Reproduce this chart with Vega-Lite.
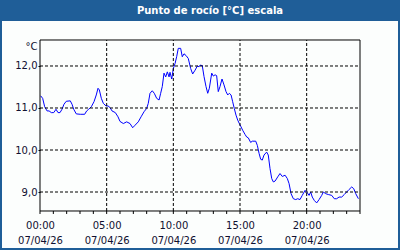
{
  "$schema": "https://vega.github.io/schema/vega-lite/v6.json",
  "width": 396,
  "height": 227,
  "autosize": {"type": "none"},
  "padding": {"left": 2, "top": 21, "right": 2, "bottom": 2},
  "background": "#1f5e98",
  "config": {
    "view": {"fill": "#fcfefd", "stroke": null},
    "font": "DejaVu Sans"
  },
  "title": {
    "text": "Punto de rocío [°C] escala",
    "color": "#ffffff",
    "fontSize": 10,
    "fontWeight": "bold",
    "font": "DejaVu Sans",
    "anchor": "middle",
    "dx": 10,
    "offset": 5
  },
  "datasets": {
    "dew": [
      {"h": 0.05, "t": 11.29}, {"h": 0.20, "t": 11.23}, {"h": 0.35, "t": 11.03}, {"h": 0.53, "t": 10.93},
      {"h": 0.68, "t": 10.93}, {"h": 0.85, "t": 10.89}, {"h": 1.03, "t": 10.89}, {"h": 1.20, "t": 10.97},
      {"h": 1.35, "t": 10.89}, {"h": 1.50, "t": 10.89}, {"h": 1.65, "t": 10.97}, {"h": 1.80, "t": 11.09},
      {"h": 1.97, "t": 11.16}, {"h": 2.27, "t": 11.17}, {"h": 2.40, "t": 11.09}, {"h": 2.53, "t": 10.97},
      {"h": 2.72, "t": 10.86}, {"h": 3.02, "t": 10.85}, {"h": 3.35, "t": 10.85}, {"h": 3.50, "t": 10.93},
      {"h": 3.65, "t": 10.97}, {"h": 3.85, "t": 11.03}, {"h": 4.05, "t": 11.15}, {"h": 4.22, "t": 11.31},
      {"h": 4.35, "t": 11.47}, {"h": 4.45, "t": 11.43}, {"h": 4.60, "t": 11.23}, {"h": 4.75, "t": 11.11},
      {"h": 4.95, "t": 11.05}, {"h": 5.10, "t": 11.05}, {"h": 5.25, "t": 11.01}, {"h": 5.40, "t": 10.93},
      {"h": 5.65, "t": 10.89}, {"h": 5.85, "t": 10.79}, {"h": 6.00, "t": 10.68}, {"h": 6.25, "t": 10.63},
      {"h": 6.50, "t": 10.67}, {"h": 6.75, "t": 10.63}, {"h": 6.95, "t": 10.53}, {"h": 7.13, "t": 10.59},
      {"h": 7.37, "t": 10.67}, {"h": 7.58, "t": 10.79}, {"h": 7.80, "t": 10.91}, {"h": 8.00, "t": 10.99},
      {"h": 8.12, "t": 11.11}, {"h": 8.25, "t": 11.35}, {"h": 8.42, "t": 11.41}, {"h": 8.57, "t": 11.35},
      {"h": 8.75, "t": 11.23}, {"h": 8.93, "t": 11.19}, {"h": 9.05, "t": 11.35}, {"h": 9.17, "t": 11.51},
      {"h": 9.30, "t": 11.83}, {"h": 9.43, "t": 11.74}, {"h": 9.55, "t": 11.86}, {"h": 9.68, "t": 11.74},
      {"h": 9.75, "t": 11.85}, {"h": 9.88, "t": 11.69}, {"h": 10.00, "t": 11.94}, {"h": 10.13, "t": 12.06},
      {"h": 10.25, "t": 12.22}, {"h": 10.37, "t": 12.42}, {"h": 10.55, "t": 12.42}, {"h": 10.67, "t": 12.22},
      {"h": 10.80, "t": 12.29}, {"h": 10.95, "t": 12.25}, {"h": 11.12, "t": 12.18}, {"h": 11.30, "t": 11.94},
      {"h": 11.45, "t": 11.81}, {"h": 11.63, "t": 11.90}, {"h": 11.80, "t": 12.00}, {"h": 11.93, "t": 11.98},
      {"h": 12.00, "t": 12.02}, {"h": 12.17, "t": 12.01}, {"h": 12.30, "t": 11.75}, {"h": 12.45, "t": 11.51},
      {"h": 12.58, "t": 11.35}, {"h": 12.70, "t": 11.47}, {"h": 12.88, "t": 11.83}, {"h": 13.00, "t": 11.76},
      {"h": 13.13, "t": 11.79}, {"h": 13.25, "t": 11.77}, {"h": 13.37, "t": 11.39}, {"h": 13.50, "t": 11.51},
      {"h": 13.65, "t": 11.69}, {"h": 13.80, "t": 11.55}, {"h": 13.95, "t": 11.39}, {"h": 14.08, "t": 11.31},
      {"h": 14.20, "t": 11.35}, {"h": 14.33, "t": 11.31}, {"h": 14.45, "t": 11.15}, {"h": 14.57, "t": 10.99},
      {"h": 14.70, "t": 10.83}, {"h": 14.83, "t": 10.71}, {"h": 14.95, "t": 10.63}, {"h": 15.08, "t": 10.55},
      {"h": 15.20, "t": 10.47}, {"h": 15.38, "t": 10.37}, {"h": 15.50, "t": 10.31}, {"h": 15.62, "t": 10.29},
      {"h": 15.80, "t": 10.18}, {"h": 15.92, "t": 10.21}, {"h": 16.05, "t": 10.21}, {"h": 16.18, "t": 10.21},
      {"h": 16.30, "t": 10.11}, {"h": 16.43, "t": 9.92}, {"h": 16.55, "t": 9.78}, {"h": 16.67, "t": 9.76},
      {"h": 16.80, "t": 9.88}, {"h": 17.00, "t": 9.95}, {"h": 17.12, "t": 9.88}, {"h": 17.25, "t": 9.56},
      {"h": 17.38, "t": 9.32}, {"h": 17.50, "t": 9.24}, {"h": 17.63, "t": 9.26}, {"h": 17.83, "t": 9.36},
      {"h": 18.00, "t": 9.44}, {"h": 18.17, "t": 9.37}, {"h": 18.38, "t": 9.40}, {"h": 18.55, "t": 9.32},
      {"h": 18.68, "t": 9.20}, {"h": 18.83, "t": 8.96}, {"h": 19.00, "t": 8.84}, {"h": 19.18, "t": 8.82},
      {"h": 19.33, "t": 8.84}, {"h": 19.50, "t": 8.82}, {"h": 19.67, "t": 8.92}, {"h": 19.88, "t": 9.04},
      {"h": 20.05, "t": 8.98}, {"h": 20.18, "t": 8.92}, {"h": 20.30, "t": 9.00}, {"h": 20.42, "t": 8.88},
      {"h": 20.57, "t": 8.80}, {"h": 20.75, "t": 8.74}, {"h": 20.93, "t": 8.82}, {"h": 21.13, "t": 8.92},
      {"h": 21.25, "t": 9.00}, {"h": 21.43, "t": 8.96}, {"h": 21.62, "t": 8.94}, {"h": 21.88, "t": 8.92},
      {"h": 22.07, "t": 8.84}, {"h": 22.25, "t": 8.84}, {"h": 22.43, "t": 8.88}, {"h": 22.63, "t": 8.88},
      {"h": 22.82, "t": 8.94}, {"h": 23.00, "t": 9.00}, {"h": 23.18, "t": 9.06}, {"h": 23.38, "t": 9.12},
      {"h": 23.53, "t": 9.08}, {"h": 23.68, "t": 8.96}, {"h": 23.88, "t": 8.84}
    ],
    "hgrid": [{"v": 9}, {"v": 10}, {"v": 11}, {"v": 12}],
    "vgrid": [{"v": 5}, {"v": 10}, {"v": 15}, {"v": 20}],
    "hours": [
      {"h": 0}, {"h": 1}, {"h": 2}, {"h": 3}, {"h": 4}, {"h": 5}, {"h": 6}, {"h": 7}, {"h": 8},
      {"h": 9}, {"h": 10}, {"h": 11}, {"h": 12}, {"h": 13}, {"h": 14}, {"h": 15}, {"h": 16},
      {"h": 17}, {"h": 18}, {"h": 19}, {"h": 20}, {"h": 21}, {"h": 22}, {"h": 23}, {"h": 24}
    ],
    "frame": [{"x0": 0, "x1": 24, "y0": 8.548, "y1": 12.619}]
  },
  "layer": [
    {
      "data": {"name": "dew"},
      "mark": {"type": "line", "color": "#0000ff", "strokeWidth": 1, "interpolate": "linear"},
      "encoding": {
        "x": {
          "field": "h", "type": "quantitative",
          "scale": {"domain": [-2.85, 26.85], "nice": false, "zero": false},
          "axis": {
            "offset": -37,
            "domain": false,
            "grid": false,
            "ticks": false,
            "values": [0, 5, 10, 15, 20],
            "labelExpr": "[(datum.value < 10 ? '0' : '') + datum.value + ':00', '07/04/26']",
            "labelOverlap": false,
            "labelFontSize": 10,
            "labelColor": "#101030",
            "labelLineHeight": 15,
            "labelPadding": 9,
            "title": null
          }
        },
        "y": {
          "field": "t", "type": "quantitative",
          "scale": {"domain": [7.667, 13.071], "nice": false, "zero": false},
          "axis": {
            "offset": -38,
            "domain": false,
            "grid": false,
            "values": [9, 10, 11, 12],
            "tickSize": 2,
            "tickColor": "#000000",
            "labelExpr": "replace(format(datum.value, '.1f'), '.', ',')",
            "labelFontSize": 10,
            "labelColor": "#101030",
            "labelPadding": 1,
            "title": "°C",
            "titleAngle": 0,
            "titleAlign": "right",
            "titleBaseline": "middle",
            "titleFontWeight": "normal",
            "titleFontSize": 10,
            "titleColor": "#101030",
            "titleX": -3,
            "titleY": 25
          }
        }
      }
    },
    {
      "data": {"name": "hgrid"},
      "mark": {"type": "rule", "color": "#000000", "strokeWidth": 1, "strokeDash": [3, 2]},
      "encoding": {
        "y": {"field": "v", "type": "quantitative"},
        "x": {"datum": 0, "type": "quantitative"},
        "x2": {"datum": 24}
      }
    },
    {
      "data": {"name": "vgrid"},
      "mark": {"type": "rule", "color": "#000000", "strokeWidth": 1, "strokeDash": [3, 2]},
      "encoding": {
        "x": {"field": "v", "type": "quantitative"},
        "y": {"datum": 8.548, "type": "quantitative"},
        "y2": {"datum": 12.619}
      }
    },
    {
      "data": {"name": "hours"},
      "mark": {"type": "rule", "color": "#000000", "strokeWidth": 1},
      "encoding": {
        "x": {"field": "h", "type": "quantitative"},
        "y": {"datum": 8.548, "type": "quantitative"},
        "y2": {"datum": 8.477}
      }
    },
    {
      "data": {"name": "frame"},
      "mark": {"type": "rect", "fill": null, "stroke": "#000000", "strokeWidth": 1},
      "encoding": {
        "x": {"field": "x0", "type": "quantitative"},
        "x2": {"field": "x1"},
        "y": {"field": "y0", "type": "quantitative"},
        "y2": {"field": "y1"}
      }
    }
  ]
}
